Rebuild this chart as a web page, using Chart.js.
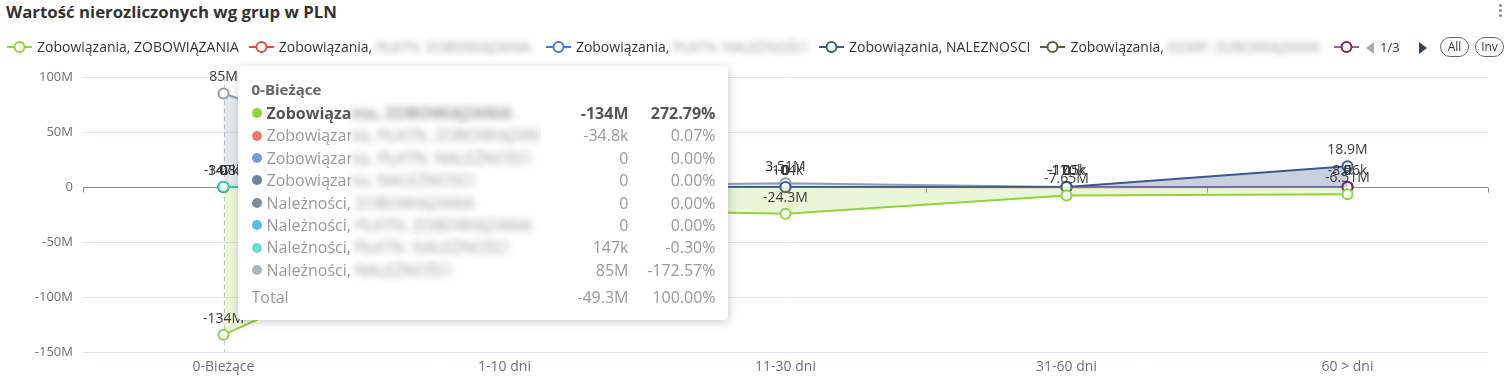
<!DOCTYPE html>
<html lang="pl">
<head>
<meta charset="utf-8">
<title>Wartość nierozliczonych wg grup w PLN</title>
<script src="https://cdn.jsdelivr.net/npm/chart.js@4.4.1/dist/chart.umd.min.js"></script>
<style>
  body { margin: 0; width: 1510px; height: 378px; overflow: hidden; background: #fff; font-family: 'Open Sans', sans-serif; position: relative; }
  #agingChart { position: absolute; left: 0; top: 0; }
  .title { position: absolute; left: 6px; top: 0; font-size: 16.8px; font-weight: 700; color: #333; line-height: 24px; white-space: nowrap; }
  .menu { position: absolute; left: 1499px; top: 4px; }
  .menu span { display: block; width: 3px; height: 3px; border-radius: 50%; background: #888; margin-bottom: 2px; }
  .legend { position: absolute; left: 7px; top: 37px; width: 1352px; height: 20px; overflow: hidden; white-space: nowrap; font-size: 14px; line-height: 20px; color: #333; }
  .lg-item { display: inline-flex; align-items: center; margin-right: 10px; vertical-align: top; }
  .lg-item svg { margin-right: 5px; }
  .blur { display: inline-block; overflow: hidden; vertical-align: top; filter: blur(3px); color: #999; }
  .pager { position: absolute; top: 37px; height: 20px; font-size: 13px; line-height: 20px; color: #333; }
  .tri-l { position: absolute; left: 1366px; top: 42px; width: 0; height: 0; border-top: 6px solid transparent; border-bottom: 6px solid transparent; border-right: 8px solid #aaa; }
  .tri-r { position: absolute; left: 1419px; top: 42px; width: 0; height: 0; border-top: 6px solid transparent; border-bottom: 6px solid transparent; border-left: 8px solid #2f4554; }
  .pill { position: absolute; top: 37px; height: 18px; border: 1px solid #666; border-radius: 10px; font-size: 12px; line-height: 18px; text-align: center; color: #333; }
  .tt { position: absolute; display: none; width: 490px; height: 254px; box-sizing: border-box; background: #fff; border-radius: 4px; box-shadow: 1px 2px 10px rgba(0,0,0,0.2); padding: 13px 12px 0 14px; font-size: 16px; color: #999; pointer-events: none; }
  .tt-title { font-size: 15px; font-weight: 700; color: #666; line-height: 20px; height: 23px; }
  .tt-row { display: flex; align-items: center; height: 22.4px; line-height: 22.4px; white-space: nowrap; }
  .tt-row.hot { font-weight: 700; color: #555; }
  .tt-row.total { margin-top: 4.5px; }
  .dot { width: 10px; height: 10px; border-radius: 50%; margin-right: 5px; flex: none; }
  .nm { width: 274px; overflow: hidden; display: flex; }
  .total .nm { width: 289px; }
  .nm .clr { display: inline-block; width: 84px; overflow: hidden; flex: none; }
  .nm .hid { display: inline-block; overflow: hidden; filter: blur(3.5px); color: #9a9a9a; }
  .nm .hid span { margin-left: -84px; }
  .val { width: 88px; text-align: right; flex: none; }
  .pct { width: 87px; text-align: right; flex: none; }
</style>
</head>
<body>
<div class="title">Wartość nierozliczonych wg grup w PLN</div>
<div class="menu"><span></span><span></span><span></span></div>
<canvas id="agingChart" width="1510" height="378"></canvas>
<div class="legend" id="legend"></div>
<div class="tri-l"></div>
<div class="pager" style="left:1380px">1/3</div>
<div class="tri-r"></div>
<div class="pill" style="left:1440px;width:27px">All</div>
<div class="pill" style="left:1475px;width:27px">Inv</div>
<div class="tt" id="tip"></div>

<script>
const ctx = document.getElementById('agingChart').getContext('2d');

// kategorie wiekowania
const categories = ['0-Bieżące', '1-10 dni', '11-30 dni', '31-60 dni', '60 > dni'];

// nazwy serii (grupa, podgrupa)
const seriesGroups = ['Zobowiązania', 'Zobowiązania', 'Zobowiązania', 'Zobowiązania', 'Zobowiązania',
  'Zobowiązania', 'Należności', 'Należności', 'Należności', 'Należności'];
const seriesNames = ['ZOBOWIĄZANIA', 'PŁATN. ZOBOWIĄZANIA', 'PŁATN. NALEŻNOŚCI', 'NALEZNOSCI', 'KOMP. ZOBOWIĄZANIA',
  'INNE NALEŻNOŚCI', 'ZOBOWIĄZANIA', 'PŁATN. ZOBOWIĄZANIA', 'PŁATN. NALEŻNOŚCI', 'NALEŻNOŚCI'];

// wartości w mln PLN
const zobZobowiazania = [-134.3684, -19.5, -24.3, -7.65, -6.51];
const zobPlatnZob = [-0.0348, -0.02, -0.104, -0.17, -0.00856];
const zobPlatnNal = [0, 0, 0, 0, 0];
const zobNaleznosci = [0, 0, 0, 0, 18.9];
const zobKomp = [null, 0, null, null, null];
const zobInne = [null, null, null, -0.0115, 0];
const nalZobowiazania = [0, 0, 0, 0, 0];
const nalPlatnZob = [0, 0, 0, 0, 0];
const nalPlatnNal = [0.147, 0, null, null, null];
const nalNaleznosci = [85.0, 0.5, 3.51, 0, 0];

const seriesValues = [zobZobowiazania, zobPlatnZob, zobPlatnNal, zobNaleznosci, zobKomp,
  zobInne, nalZobowiazania, nalPlatnZob, nalPlatnNal, nalNaleznosci];

// oś Y (mln)
const yTicks = [-150, -100, -50, 0, 50, 100];

// style
const colors = ['#8fd43c', '#e44b43', '#4677dc', '#3d5a8a', '#5c5c3e', '#8b1a50', '#546977', '#20a7e0', '#2ed5b6', '#8e9eae'];
const lineColors = ['#8fd43c', '#e44b43', '#4677dc', '#3d5a8a', '#5c5c3e', '#7e6bb0', '#546977', '#20a7e0', '#2ed5b6', '#8e9eae'];
const fillAlpha = [0.2, 0.25, 0.25, 0.28, 0.25, 0.25, 0.25, 0.25, 0.25, 0.25];
const zIndex = [10, 5, 4, 8, 3, 7, 2, 1, 9, 6];
const legendBlurWidth = [0, 160, 136, 0, 157, 0];

function rgba(hex, a) {
  const n = parseInt(hex.slice(1), 16);
  return `rgba(${(n >> 16) & 255}, ${(n >> 8) & 255}, ${n & 255}, ${a})`;
}

function fmt(v) {
  const abs = Math.abs(v) * 1e6;
  if (abs === 0) return '0';
  if (abs >= 1e6) return parseFloat(v.toPrecision(3)) + 'M';
  if (abs >= 1e3) return parseFloat((v * 1000).toPrecision(3)) + 'k';
  return parseFloat((v * 1e6).toPrecision(3)).toString();
}

const datasets = seriesValues.map((values, i) => ({
  label: seriesGroups[i] + ', ' + seriesNames[i],
  data: values,
  borderColor: lineColors[i],
  backgroundColor: rgba(colors[i], fillAlpha[i]),
  pointBorderColor: colors[i],
  pointBackgroundColor: '#fff',
  pointRadius: 5,
  pointBorderWidth: 2,
  borderWidth: 2,
  fill: 'origin',
  tension: 0,
  order: 11 - zIndex[i],
}));

// etykiety wartości nad punktami
const pointLabels = {
  id: 'pointLabels',
  afterDatasetsDraw(chart) {
    const c = chart.ctx;
    c.save();
    c.font = '14px "Open Sans"';
    c.fillStyle = '#3a3a3a';
    c.textAlign = 'center';
    c.textBaseline = 'bottom';
    chart.data.datasets.forEach((ds, i) => {
      const meta = chart.getDatasetMeta(i);
      meta.data.forEach((pt, j) => {
        const v = ds.data[j];
        if (v === null || v === undefined) return;
        c.fillText(fmt(v), pt.x, pt.y - 9);
      });
    });
    c.restore();
  },
};

// linia zera z kreskami między kategoriami + wskaźnik osi
const axisExtras = {
  id: 'axisExtras',
  beforeDatasetsDraw(chart) {
    const c = chart.ctx;
    const x = chart.scales.x;
    const area = chart.chartArea;
    const y0 = Math.round(chart.scales.y.getPixelForValue(0)) + 0.5;
    const step = x.getPixelForValue(1) - x.getPixelForValue(0);
    c.save();
    c.strokeStyle = '#8a8d95';
    c.lineWidth = 1;
    c.beginPath();
    c.moveTo(area.left, y0);
    c.lineTo(area.right, y0);
    for (let k = 0; k <= categories.length; k++) {
      const px = Math.round(x.getPixelForValue(0) - step / 2 + k * step) + 0.5;
      c.moveTo(px, y0);
      c.lineTo(px, y0 + 5);
    }
    c.stroke();
    const active = chart.tooltip.getActiveElements();
    if (active.length) {
      const px = Math.round(active[0].element.x) + 0.5;
      c.strokeStyle = '#c4c7cf';
      c.setLineDash([4, 4]);
      c.beginPath();
      c.moveTo(px, area.top);
      c.lineTo(px, area.bottom);
      c.stroke();
    }
    c.restore();
  },
};

function splitName(name) {
  return `<span class="clr">${name}</span><span class="hid"><span>${name}</span></span>`;
}

function renderTooltip(context) {
  const tip = context.tooltip;
  const el = document.getElementById('tip');
  if (tip.opacity === 0 || !tip.dataPoints || !tip.dataPoints.length) {
    el.style.display = 'none';
    return;
  }
  const items = tip.dataPoints.slice().sort((a, b) => a.datasetIndex - b.datasetIndex);
  const total = items.reduce((s, it) => s + it.raw, 0);
  let html = `<div class="tt-title">${categories[items[0].dataIndex]}</div>`;
  items.forEach((it, k) => {
    const i = it.datasetIndex;
    html += `<div class="tt-row${k === 0 ? ' hot' : ''}">
      <span class="dot" style="background:${colors[i]};opacity:${k === 0 ? 1 : 0.75}"></span>
      <span class="nm">${splitName(it.dataset.label)}</span>
      <span class="val">${fmt(it.raw)}</span>
      <span class="pct">${(it.raw / total * 100).toFixed(2)}%</span></div>`;
  });
  html += `<div class="tt-row total"><span class="nm">Total</span>
    <span class="val">${fmt(total)}</span><span class="pct">100.00%</span></div>`;
  el.innerHTML = html;
  el.style.left = (tip.caretX + 14) + 'px';
  el.style.top = (context.chart.chartArea.top - 11) + 'px';
  el.style.display = 'block';
}

const agingChart = new Chart(ctx, {
  type: 'line',
  data: { labels: categories, datasets: datasets },
  plugins: [axisExtras, pointLabels],
  options: {
    responsive: false,
    animation: false,
    events: [],
    layout: { padding: { top: 77, right: 22, bottom: 0, left: 0 } },
    plugins: {
      legend: { display: false },
      tooltip: { enabled: false, mode: 'index', intersect: false, external: renderTooltip },
    },
    scales: {
      x: {
        offset: true,
        grid: { display: false, drawTicks: false },
        border: { display: false },
        ticks: { color: '#6e7079', font: { family: 'Open Sans', size: 14 }, padding: 7 },
        afterFit: (scale) => { scale.height = 26; },
      },
      y: {
        min: yTicks[0],
        max: yTicks[yTicks.length - 1],
        afterBuildTicks: (scale) => { scale.ticks = yTicks.map((v) => ({ value: v })); },
        grid: {
          drawTicks: false,
          color: (c) => (c.tick && c.tick.value === 0 ? 'rgba(0,0,0,0)' : '#e0e6f1'),
        },
        border: { display: false },
        ticks: {
          color: '#6e7079',
          font: { family: 'Open Sans', size: 13 },
          padding: 10,
          callback: (v) => (v === 0 ? '0' : v + 'M'),
        },
        afterFit: (scale) => { scale.width = 83; },
      },
    },
  },
});

// legenda (pierwsza strona)
const legendEl = document.getElementById('legend');
legendEl.innerHTML = agingChart.data.datasets.slice(0, 6).map((ds, i) => {
  const icon = `<svg width="25" height="14"><line x1="0" y1="7" x2="25" y2="7" stroke="${lineColors[i]}" stroke-width="2"/>
    <circle cx="12.5" cy="7" r="5" fill="#fff" stroke="${colors[i]}" stroke-width="2"/></svg>`;
  const text = legendBlurWidth[i]
    ? `${seriesGroups[i]},&nbsp;<span class="blur" style="width:${legendBlurWidth[i]}px">${seriesNames[i]}</span>`
    : ds.label;
  return `<span class="lg-item">${icon}<span>${text}</span></span>`;
}).join('');

// podświetlenie pierwszej kategorii
const firstIndex = 0;
const active = [];
agingChart.data.datasets.forEach((ds, i) => {
  if (ds.data[firstIndex] !== null) active.push({ datasetIndex: i, index: firstIndex });
});
const anchor = agingChart.getDatasetMeta(0).data[firstIndex];
agingChart.tooltip.setActiveElements(active, { x: anchor.x, y: anchor.y });
agingChart.draw();
</script>
</body>
</html>
